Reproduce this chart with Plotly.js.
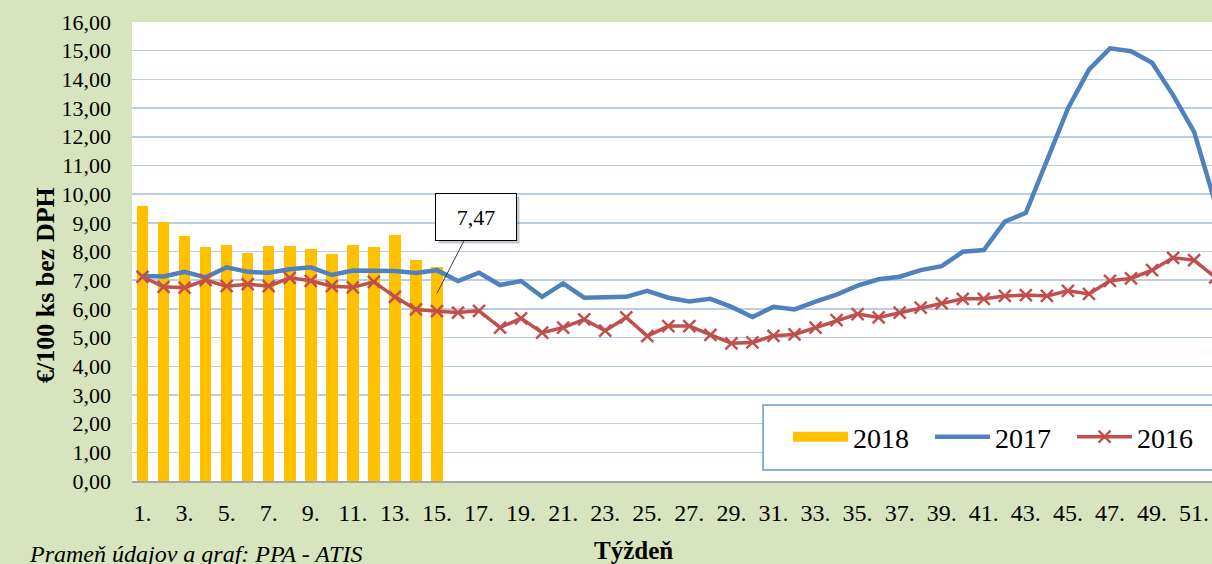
<!DOCTYPE html>
<html>
<head>
<meta charset="utf-8">
<script src="https://cdn.plot.ly/plotly-3.0.1.min.js"></script>
<style>
  html, body { margin: 0; padding: 0; background: #d7e4bd; }
  #chart { width: 1212px; height: 564px; }
</style>
</head>
<body>
<div id="chart"></div>
<script>
// ---- Data ----
const weeks = [1,2,3,4,5,6,7,8,9,10,11,12,13,14,15,16,17,18,19,20,21,22,23,24,25,26,
               27,28,29,30,31,32,33,34,35,36,37,38,39,40,41,42,43,44,45,46,47,48,49,50,51,52];
const weekLabels = weeks.map(w => w + '.');

const weeks2018 = weeks.slice(0, 15);
const price2018 = [9.57, 9.03, 8.54, 8.14, 8.22, 7.96, 8.18, 8.18, 8.09, 7.92, 8.22, 8.14, 8.58, 7.69, 7.47];

const price2017 = [7.15, 7.13, 7.29, 7.10, 7.45, 7.29, 7.26, 7.38, 7.45, 7.18, 7.34, 7.32, 7.32, 7.25, 7.35,
                   6.97, 7.26, 6.83, 6.97, 6.42, 6.89, 6.39, 6.41, 6.42, 6.63, 6.39, 6.26, 6.35, 6.07, 5.72,
                   6.07, 5.98, 6.25, 6.50, 6.81, 7.03, 7.12, 7.35, 7.49, 7.99, 8.05, 9.04, 9.35, 11.13, 12.99,
                   14.34, 15.08, 14.98, 14.58, 13.45, 12.17, 9.70];

const price2016 = [7.12, 6.77, 6.74, 7.00, 6.79, 6.86, 6.79, 7.08, 6.98, 6.79, 6.75, 6.94, 6.42, 5.98, 5.92,
                   5.87, 5.93, 5.35, 5.67, 5.17, 5.35, 5.63, 5.24, 5.70, 5.05, 5.40, 5.40, 5.09, 4.80, 4.83,
                   5.06, 5.11, 5.35, 5.61, 5.82, 5.70, 5.87, 6.04, 6.19, 6.35, 6.35, 6.45, 6.48, 6.45, 6.63,
                   6.52, 6.98, 7.06, 7.35, 7.78, 7.70, 7.10];

const seriesNames = ['2018', '2017', '2016'];
const tickWeeks = weeks.filter(w => w % 2 === 1);
const tickText = tickWeeks.map(w => weekLabels[w - 1]);

const FONT = 'Liberation Serif, Times New Roman, serif';
const C18 = '#ffc000', C17 = '#4f81bd', C16 = '#c0504d';

const lastIdx = price2018.length - 1;
const calloutText = price2018[lastIdx].toFixed(2).replace('.', ',');

const traces = [
  { type: 'bar', x: weeks2018, y: price2018, name: seriesNames[0], width: 0.55,
    marker: { color: C18 }, showlegend: false, hoverinfo: 'x+y' },
  { type: 'scatter', mode: 'lines', x: [null], y: [null], name: seriesNames[0],
    line: { color: C18, width: 11 }, hoverinfo: 'skip' },
  { type: 'scatter', mode: 'lines', x: weeks, y: price2017, name: seriesNames[1],
    line: { color: C17, width: 4.5 } },
  { type: 'scatter', mode: 'lines+markers', x: weeks, y: price2016, name: seriesNames[2],
    line: { color: C16, width: 3.5 },
    marker: { symbol: 'x-thin', size: 12, color: C16, line: { color: C16, width: 2.5 } } }
];

const layout = {
  width: 1212, height: 564,
  margin: { l: 132, r: 0, t: 22, b: 83, pad: 0, autoexpand: false },
  paper_bgcolor: '#d7e4bd',
  plot_bgcolor: '#ffffff',
  separators: ',.',
  font: { family: FONT, color: '#000000' },
  bargap: 0,
  xaxis: {
    range: [0.5, 51.85],
    tickmode: 'array', tickvals: tickWeeks, ticktext: tickText,
    tickfont: { family: FONT, size: 24, color: '#000' },
    ticks: '', ticklabelstandoff: 9,
    showgrid: false, zeroline: false,
    showline: true, linecolor: '#a6a6a6', linewidth: 2,
    fixedrange: true
  },
  yaxis: {
    range: [0, 16], dtick: 1, tickformat: '.2f',
    tickfont: { family: FONT, size: 22, color: '#000' },
    ticks: '', ticklabelstandoff: 20,
    showgrid: true, gridcolor: '#b9cde5', gridwidth: 1.5,
    zeroline: false, showline: false,
    fixedrange: true
  },
  showlegend: true,
  legend: {
    orientation: 'h',
    xref: 'container', yref: 'container',
    x: 0.6502, xanchor: 'left',
    y: 0.2252, yanchor: 'middle',
    bgcolor: 'rgba(0,0,0,0)', borderwidth: 0,
    font: { family: FONT, size: 28, color: '#000' },
    itemwidth: 55, entrywidth: 72, entrywidthmode: 'pixels',
    itemclick: false, itemdoubleclick: false
  },
  shapes: [
    { type: 'rect', xref: 'paper', yref: 'paper', x0: 0.5843, x1: 1.1, y0: 0.024, y1: 0.1656,
      fillcolor: '#ffffff', line: { color: '#6f96c8', width: 1.5 }, layer: 'above' }
  ],
  annotations: [
    { x: weeks2018[lastIdx], y: 6.54, xref: 'x', yref: 'y', ax: 39, ay: -76,
      text: '&nbsp;', showarrow: true, arrowhead: 0, arrowwidth: 1, arrowcolor: 'rgba(0,0,0,0)',
      bgcolor: 'rgba(0,0,0,0.22)', bordercolor: 'rgba(0,0,0,0)', borderwidth: 1,
      width: 78, height: 44, font: { family: FONT, size: 22, color: 'rgba(0,0,0,0)' },
      xshift: 3, yshift: -3 },
    { x: weeks2018[lastIdx], y: 6.54, xref: 'x', yref: 'y', ax: 39, ay: -76,
      text: calloutText, showarrow: true, arrowhead: 0, arrowwidth: 1, arrowcolor: '#404040',
      bgcolor: '#ffffff', bordercolor: '#000000', borderwidth: 1,
      width: 78, height: 44, font: { family: FONT, size: 22, color: '#000' } },
    { xref: 'paper', yref: 'paper', x: -0.0806, y: 0.427, xanchor: 'center', yanchor: 'middle',
      text: '<b>€/100 ks bez DPH</b>', textangle: -90, showarrow: false,
      font: { family: FONT, size: 26, color: '#000' } },
    { xref: 'paper', yref: 'paper', x: 0.464, y: -0.1525, xanchor: 'center', yanchor: 'middle',
      text: '<b>Týždeň</b>', showarrow: false,
      font: { family: FONT, size: 25, color: '#000' } },
    { xref: 'paper', yref: 'paper', x: -0.097, y: -0.158, xanchor: 'left', yanchor: 'middle',
      text: '<i>Prameň údajov a graf: PPA - ATIS</i>', showarrow: false,
      font: { family: FONT, size: 24, color: '#000' } }
  ]
};

Plotly.newPlot('chart', traces, layout, { displayModeBar: false, staticPlot: true });
</script>
</body>
</html>
